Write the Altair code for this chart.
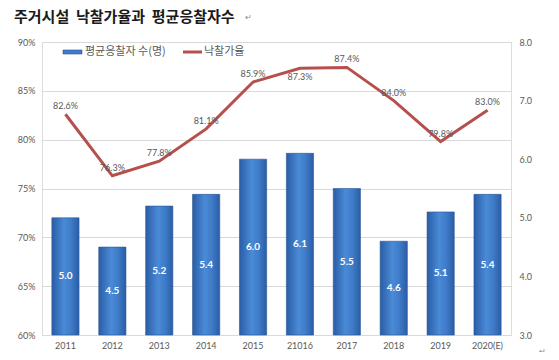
import altair as alt
import pandas as pd

years = ["2011", "2012", "2013", "2014", "2015", "21016", "2017", "2018", "2019", "2020(E)"]
bidders = [5.0, 4.5, 5.2, 5.4, 6.0, 6.1, 5.5, 4.6, 5.1, 5.4]
rates = [82.6, 76.3, 77.8, 81.1, 85.9, 87.3, 87.4, 84.0, 79.8, 83.0]

title_text = "주거시설\u00a0\u00a0낙찰가율과\u00a0\u00a0평균응찰자수"
legend_bar = "평균응찰자 수(명)"
legend_line = "낙찰가율"
para_mark = "↵"

df = pd.DataFrame({"year": years, "bid": bidders, "rate": rates})

KR = "Noto Sans CJK KR"
NUM = "Lato"
GRAY = "#595959"

x = alt.X("year:N", sort=years, title=None,
          scale=alt.Scale(paddingInner=0.42, paddingOuter=0.21),
          axis=alt.Axis(labelAngle=0, ticks=False, domain=False, labelPadding=6,
                        labelFont=NUM, labelFontSize=9, labelColor=GRAY))

grad = alt.LinearGradient(
    gradient="linear", x1=0, x2=1, y1=0, y2=0,
    stops=[alt.GradientStop(color="#2a5da6", offset=0),
           alt.GradientStop(color="#4a8ad6", offset=0.45),
           alt.GradientStop(color="#3f7cc9", offset=0.7),
           alt.GradientStop(color="#2a5da6", offset=1)])

r_scale = alt.Scale(domain=[3, 8], nice=False, zero=False)
r_axis = alt.Axis(orient="right", values=[3, 4, 5, 6, 7, 8], format=".1f",
                  grid=False, ticks=False, domain=False, labelPadding=8,
                  labelFont=NUM, labelFontSize=9, labelColor=GRAY)

bars = alt.Chart(df).mark_bar(color=grad, stroke="#2b5690", strokeWidth=0.6).encode(
    x=x, y=alt.Y("bid:Q", title=None, scale=r_scale, axis=r_axis), y2=alt.datum(3))

bar_labels = alt.Chart(df).transform_calculate(mid="(datum.bid + 3) / 2").mark_text(
    color="white", font=NUM, fontSize=10, fontWeight="bold").encode(
    x=x,
    y=alt.Y("mid:Q", title=None, scale=r_scale, axis=r_axis),
    text=alt.Text("bid:Q", format=".1f"))

bar_layer = alt.layer(bars, bar_labels)

l_scale = alt.Scale(domain=[60, 90], nice=False, zero=False)
l_axis = alt.Axis(orient="left", values=[60, 65, 70, 75, 80, 85, 90],
                  labelExpr="datum.value + '%'", grid=True, gridColor="#d9d9d9",
                  ticks=False, domain=False, labelPadding=7,
                  labelFont=NUM, labelFontSize=9, labelColor=GRAY)
yl = alt.Y("rate:Q", title=None, scale=l_scale, axis=l_axis)

line = alt.Chart(df).mark_line(color="#b5504d", strokeWidth=3).encode(x=x, y=yl)

line_labels = alt.Chart(df).transform_filter("datum.year != '21016'").transform_calculate(
    lbl="format(datum.rate, '.1f') + '%'").mark_text(
    color=GRAY, font=NUM, fontSize=9, dy=-8).encode(x=x, y=yl, text="lbl:N")
line_labels_b = alt.Chart(df).transform_filter("datum.year == '21016'").transform_calculate(
    lbl="format(datum.rate, '.1f') + '%'").mark_text(
    color=GRAY, font=NUM, fontSize=9, dy=9).encode(x=x, y=yl, text="lbl:N")

line_layer = alt.layer(line, line_labels, line_labels_b)

one = pd.DataFrame({"a": [0]})
title = alt.Chart(one).mark_text(font=KR, fontSize=15, fontWeight="bold", color="#1a1a1a",
                                 align="left", baseline="middle").encode(
    x=alt.value(-28), y=alt.value(-25), text=alt.value(title_text))
mark1 = alt.Chart(one).mark_text(font=KR, fontSize=8, color="#888888", align="left",
                                 baseline="middle").encode(
    x=alt.value(203), y=alt.value(-24), text=alt.value(para_mark))
mark2 = alt.Chart(one).mark_text(font=KR, fontSize=8, color="#888888", align="left",
                                 baseline="middle").encode(
    x=alt.value(497), y=alt.value(310), text=alt.value(para_mark))
leg_rect = alt.Chart(one).mark_rect(color="#3f7cc9", stroke="#2b5690", strokeWidth=0.6).encode(
    x=alt.value(21), x2=alt.value(40), y=alt.value(8), y2=alt.value(12))
leg_t1 = alt.Chart(one).mark_text(font=KR, fontSize=11, color=GRAY, align="left",
                                  baseline="middle").encode(
    x=alt.value(43), y=alt.value(10), text=alt.value(legend_bar))
leg_rule = alt.Chart(one).mark_rule(color="#b5504d", strokeWidth=3).encode(
    x=alt.value(141), x2=alt.value(160), y=alt.value(10))
leg_t2 = alt.Chart(one).mark_text(font=KR, fontSize=11, color=GRAY, align="left",
                                  baseline="middle").encode(
    x=alt.value(162), y=alt.value(10), text=alt.value(legend_line))

deco = alt.layer(title, mark1, mark2, leg_rect, leg_t1, leg_rule, leg_t2)

chart = alt.layer(bar_layer, line_layer, deco).resolve_scale(y="independent").properties(
    width=469, height=293,
    autosize=alt.AutoSizeParams(type="none"),
    padding={"left": 34, "top": 34, "right": 40, "bottom": 17},
).configure_view(stroke=None).configure(background="white")

chart.save("out.html", embed_options={"renderer": "svg", "actions": False})
